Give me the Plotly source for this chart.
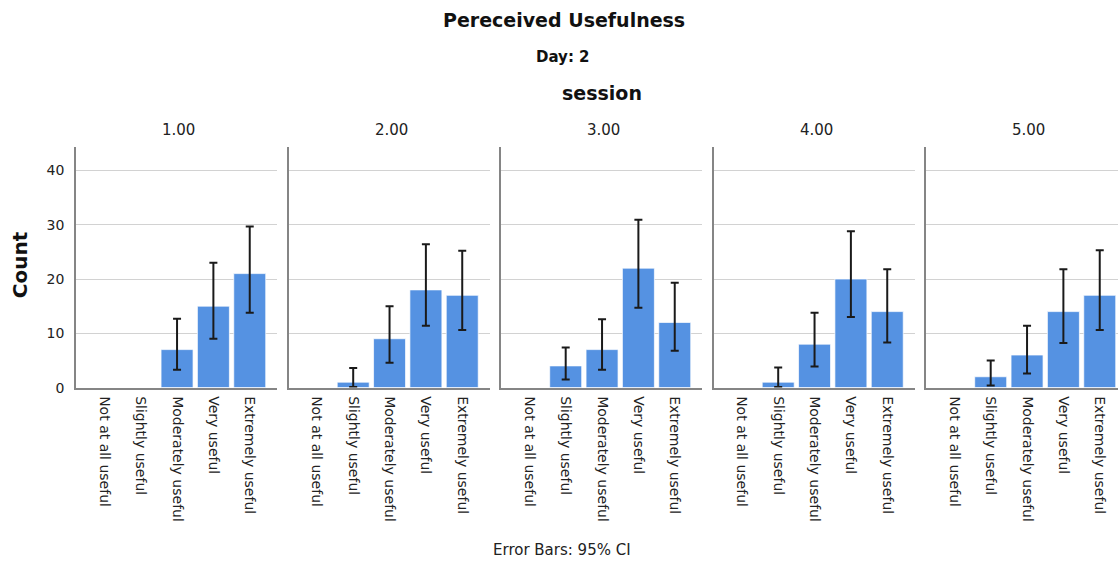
import plotly.graph_objects as go

categories = ["Not at all useful", "Slightly useful", "Moderately useful", "Very useful", "Extremely useful"]
sessions = ["1.00", "2.00", "3.00", "4.00", "5.00"]

count_s1 = [0, 0, 7, 15, 21]
count_s2 = [0, 1, 9, 18, 17]
count_s3 = [0, 4, 7, 22, 12]
count_s4 = [0, 1, 8, 20, 14]
count_s5 = [0, 2, 6, 14, 17]

ci_low_s1 = [None, None, 3.3, 9.0, 13.8]
ci_high_s1 = [None, None, 12.7, 23.0, 29.7]
ci_low_s2 = [None, 0.1, 4.6, 11.4, 10.6]
ci_high_s2 = [None, 3.6, 15.0, 26.4, 25.2]
ci_low_s3 = [None, 1.5, 3.3, 14.7, 6.8]
ci_high_s3 = [None, 7.4, 12.6, 30.9, 19.3]
ci_low_s4 = [None, 0.1, 3.9, 13.0, 8.3]
ci_high_s4 = [None, 3.7, 13.8, 28.8, 21.8]
ci_low_s5 = [None, 0.4, 2.6, 8.2, 10.6]
ci_high_s5 = [None, 5.0, 11.4, 21.8, 25.3]

counts = [count_s1, count_s2, count_s3, count_s4, count_s5]
lows = [ci_low_s1, ci_low_s2, ci_low_s3, ci_low_s4, ci_low_s5]
highs = [ci_high_s1, ci_high_s2, ci_high_s3, ci_high_s4, ci_high_s5]

W, H = 1118, 563
K = 0.985  # vertical compensation observed in render
FONT = "DejaVu Sans"
BAR = "#5592e2"
GRID = "#d2d2d2"
AXL = "#858585"


def yp(px):
    return 1 - (px / K) / H


panel_left = [76, 288.5, 501, 713.5, 926]
panel_w = 201
x_lo, x_hi = -0.78, 4.75
px_per_unit = panel_w / (x_hi - x_lo)
y_top, y_bot = 147, 387.3
y_range = [0, 44.3]

fig = go.Figure()
layout = dict(
    width=W, height=H, margin=dict(l=0, r=0, t=0, b=0),
    paper_bgcolor="white", plot_bgcolor="white", showlegend=False,
    font=dict(family=FONT, color="#222222"),
)

annotations = []
for i in range(5):
    xa = "x" if i == 0 else f"x{i+1}"
    ya = "y" if i == 0 else f"y{i+1}"
    c = counts[i]
    lo = lows[i]
    hi = highs[i]
    yv = [v if v > 0 else None for v in c]
    plus = [0 if h is None else h - v for h, v in zip(hi, c)]
    minus = [0 if l is None else v - l for l, v in zip(lo, c)]
    fig.add_trace(go.Bar(
        x=categories, y=yv, xaxis=xa, yaxis=ya, width=0.88,
        marker=dict(color=BAR, line=dict(color="rgba(255,255,255,0.7)", width=1)),
        error_y=dict(type="data", array=plus, arrayminus=minus, symmetric=False,
                     color="#1a1a1a", thickness=2, width=4),
        hoverinfo="skip",
    ))
    left = panel_left[i]
    right = min(left + panel_w, W)
    xr_hi = x_lo + (right - left) / px_per_unit
    key_x = "xaxis" if i == 0 else f"xaxis{i+1}"
    key_y = "yaxis" if i == 0 else f"yaxis{i+1}"
    layout[key_x] = dict(
        domain=[left / W, right / W], anchor=ya, type="category",
        categoryorder="array", categoryarray=categories,
        range=[x_lo, xr_hi], showline=True, linecolor=AXL, linewidth=1.5,
        showgrid=False, zeroline=False, ticks="", tickangle=90,
        ticklabelstandoff=4,
        tickfont=dict(size=14, color="#222222", family=FONT),
    )
    layout[key_y] = dict(
        domain=[yp(y_bot), yp(y_top)], anchor=xa, range=y_range,
        showline=True, linecolor=AXL, linewidth=1.5, showgrid=True,
        gridcolor=GRID, gridwidth=1, zeroline=False, ticks="",
        tickvals=[0, 10, 20, 30, 40], showticklabels=(i == 0),
        ticklabelstandoff=7,
        tickfont=dict(size=14, color="#222222", family=FONT),
    )
    annotations.append(dict(
        text=sessions[i], x=(left + panel_w / 2 + 2) / W,
        y=yp(130), xref="paper", yref="paper", showarrow=False,
        font=dict(size=15, color="#222222", family=FONT), xanchor="center", yanchor="middle",
    ))

annotations += [
    dict(text="<b>Pereceived Usefulness</b>", x=564 / W, y=yp(20), xref="paper", yref="paper",
         showarrow=False, font=dict(size=19, color="#111111", family=FONT), xanchor="center", yanchor="middle"),
    dict(text="<b>Day: 2</b>", x=563 / W, y=yp(57), xref="paper", yref="paper",
         showarrow=False, font=dict(size=15, color="#111111", family=FONT), xanchor="center", yanchor="middle"),
    dict(text="<b>session</b>", x=602 / W, y=yp(93), xref="paper", yref="paper",
         showarrow=False, font=dict(size=19, color="#111111", family=FONT), xanchor="center", yanchor="middle"),
    dict(text="<b>Count</b>", x=20 / W, y=yp(265), xref="paper", yref="paper", textangle=-90,
         showarrow=False, font=dict(size=20, color="#111111", family=FONT), xanchor="center", yanchor="middle"),
    dict(text="Error Bars: 95% CI", x=562 / W, y=yp(550), xref="paper", yref="paper",
         showarrow=False, font=dict(size=15, color="#222222", family=FONT), xanchor="center", yanchor="middle"),
]
layout["annotations"] = annotations
fig.update_layout(**layout)
fig.write_html("out.html")
